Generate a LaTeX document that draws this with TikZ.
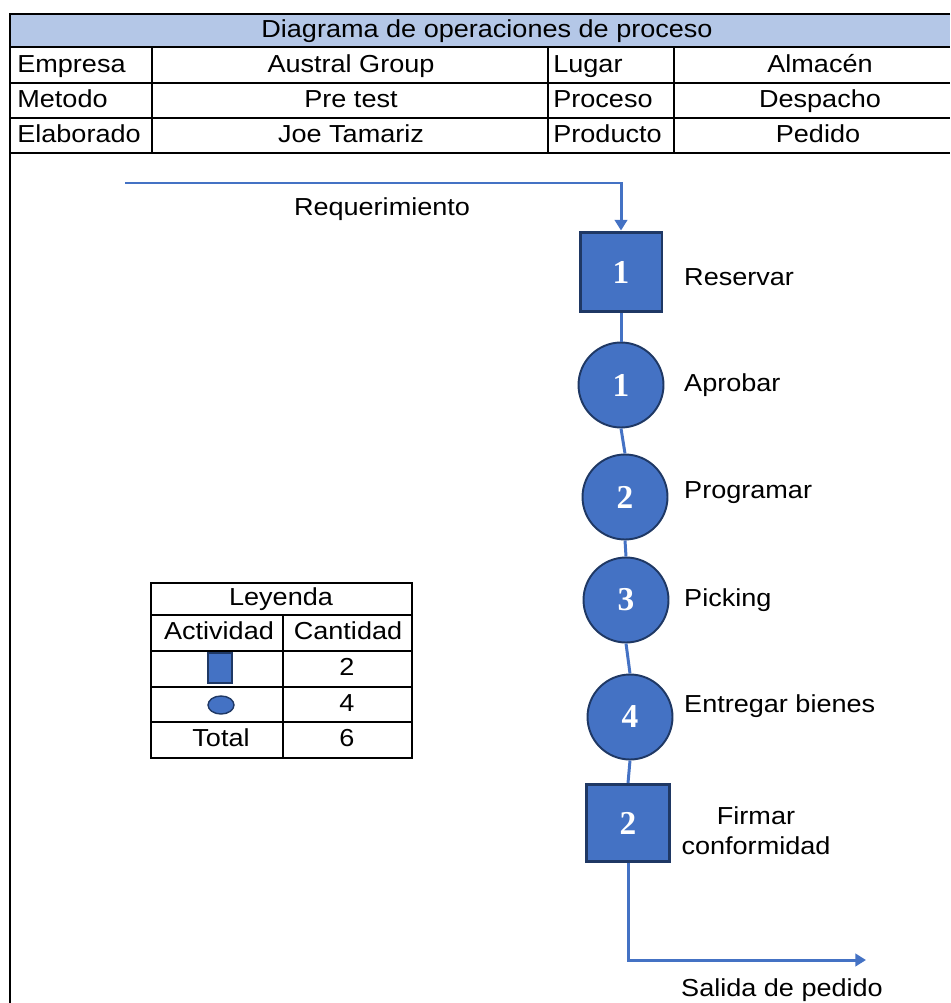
\documentclass[tikz,border=0pt]{standalone}
\usepackage{fontspec}
\setmainfont{Liberation Sans}[FakeStretch=1.1]
\newfontfamily\numfont{Liberation Serif}
\usetikzlibrary{arrows.meta,shapes.geometric}
\definecolor{opblue}{HTML}{4472C4}
\definecolor{opnavy}{HTML}{1F3864}
\definecolor{headblue}{HTML}{B4C7E7}
\tikzset{
    opbox/.style={draw=opnavy, fill=opblue, line width=1.7pt,
        minimum width=1.64cm, minimum height=1.6cm, text=white,
        text height=, text depth=,
        font=\numfont\bfseries\fontsize{19}{19}\selectfont},
    opcirc/.style={draw=opnavy, fill=opblue, line width=1.1pt, circle,
        minimum size=1.7cm, inner sep=0pt, text=white,
        text height=, text depth=,
        font=\numfont\bfseries\fontsize{19}{19}\selectfont},
    flow/.style={draw=opblue, line width=1.7pt},
    cell/.style={inner sep=0pt},
}
\begin{document}
\begin{tikzpicture}
            [
                x=0.02cm, y=-0.02cm,
                every node/.style={
                    font=\fontsize{14}{17}\selectfont,
                    text height=10pt, text depth=3pt
                },
            ]
                \useasboundingbox (0,0) rectangle (950,1003);

                % encabezado
                \fill[headblue] (10,14) rectangle (950,47);
                \draw[line width=1.6pt] (950,14) -- (10,14) -- (10,1003);
                \foreach \y in {47,83,118,153}
                    \draw[line width=1.6pt] (10,\y) -- (950,\y);
                \foreach \x in {152,548,674}
                    \draw[line width=1.6pt] (\x,47) -- (\x,153);

                \node[cell] (titulo) at (487,31) {Diagrama de operaciones de proceso};
                \node[cell, anchor=west] (empresa) at (17,66) {Empresa};
                \node[cell] (austral) at (351,66) {Austral Group};
                \node[cell, anchor=west] (lugar) at (553,66) {Lugar};
                \node[cell] (almacen) at (820,66) {Almacén};
                \node[cell, anchor=west] (metodo) at (17,101) {Metodo};
                \node[cell] (pretest) at (351,101) {Pre test};
                \node[cell, anchor=west] (proceso) at (553,101) {Proceso};
                \node[cell] (despacho) at (820,101) {Despacho};
                \node[cell, anchor=west] (elaborado) at (17,136) {Elaborado};
                \node[cell] (joe) at (351,136) {Joe Tamariz};
                \node[cell, anchor=west] (producto) at (553,136) {Producto};
                \node[cell] (pedido) at (818,136) {Pedido};

                % actividades
                \node[opbox] (b1) at (621,272) {1};
                \node[opcirc] (c1) at (621,385) {1};
                \node[opcirc] (c2) at (625,497) {2};
                \node[opcirc] (c3) at (626,600) {3};
                \node[opcirc] (c4) at (630,717) {4};
                \node[opbox, minimum width=1.66cm, minimum height=1.54cm] (b2) at (628,823) {2};

                \node[anchor=west] (reservar) at (678,279) {Reservar};
                \node[anchor=west] (aprobar) at (678,385) {Aprobar};
                \node[anchor=west] (programar) at (678,492) {Programar};
                \node[anchor=west] (picking) at (678,600) {Picking};
                \node[anchor=west] (entregar) at (678,706) {Entregar bienes};
                \node[align=center, text height=, text depth=] (firmar) at (756,831) {Firmar\\conformidad};
                \node (reqlabel) at (382,209) {Requerimiento};
                \node (salida) at (782,990) {Salida de pedido};

                \coordinate (req) at (125,183);
                \coordinate (out) at (866,960);
                \draw[flow, -{Triangle[length=6pt, width=7pt]}] (req) -| (b1.north);
                \draw[flow] (b1.south) -- (c1.north);
                \draw[flow] (c1.south) -- (c2.north);
                \draw[flow] (c2.south) -- (c3.north);
                \draw[flow] (c3.south) -- (c4.north);
                \draw[flow] (c4.south) -- (b2.north);
                \draw[flow, -{Triangle[length=6pt, width=7pt]}] (b2.south) |- (out);

                % leyenda
                \draw[line width=1.2pt] (151,583) rectangle (412,758);
                \foreach \y in {615,651,687,722}
                    \draw[line width=1.2pt] (151,\y) -- (412,\y);
                \draw[line width=1.2pt] (283,615) -- (283,758);
                \node[cell] (leyenda) at (281,599) {Leyenda};
                \node[cell] (actividad) at (219,633) {Actividad};
                \node[cell] (cantidad) at (348,633) {Cantidad};
                \node[draw=opnavy, fill=opblue, line width=1pt, text height=, text depth=,
                      minimum width=0.48cm, minimum height=0.6cm, inner sep=0pt] (legbox) at (220,668) {};
                \node[draw=opnavy, fill=opblue, line width=0.8pt, ellipse, text height=, text depth=,
                      minimum width=0.52cm, minimum height=0.36cm, inner sep=0pt] (legcirc) at (221,705) {};
                \node[cell] (nbox) at (347,669) {2};
                \node[cell] (ncirc) at (347,705) {4};
                \node[cell] (total) at (221,740) {Total};
                \node[cell] (ntotal) at (347,740) {6};
            \end{tikzpicture}
\end{document}
